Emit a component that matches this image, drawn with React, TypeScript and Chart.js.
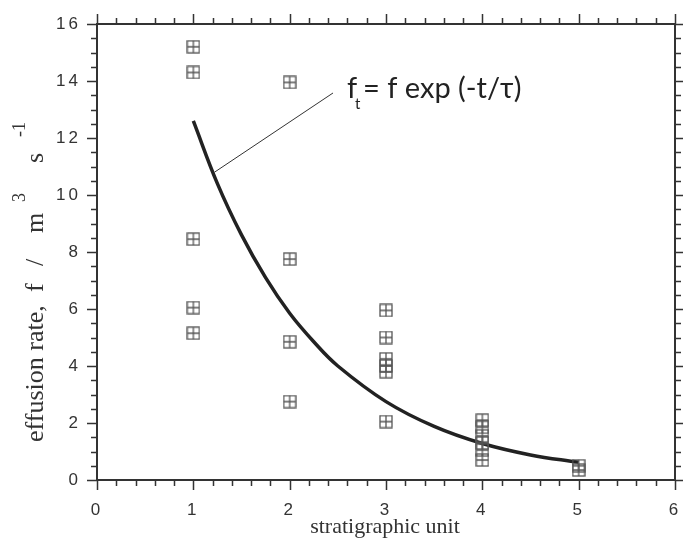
import React, { useEffect, useRef } from "react";
import { Chart, registerables } from "chart.js";

Chart.register(...registerables);

// Observed effusion rates by stratigraphic unit
const POINT_UNIT = [1, 1, 1, 1, 1, 2, 2, 2, 2, 3, 3, 3, 3, 3, 3, 4, 4, 4, 4, 4, 4, 5, 5];
const POINT_RATE = [15.2, 14.3, 8.45, 6.05, 5.15, 13.95, 7.75, 4.85, 2.75, 5.95, 5.0, 4.25, 4.0, 3.8, 2.05, 2.1, 1.85, 1.55, 1.3, 1.05, 0.7, 0.5, 0.35];

// Fitted exponential decay curve
const CURVE_UNIT = [1, 1.25, 1.5, 1.75, 2, 2.25, 2.5, 3, 3.5, 4, 4.5, 5];
const CURVE_RATE = [12.6, 10.4, 8.6, 7.1, 5.85, 4.85, 4.0, 2.75, 1.88, 1.28, 0.88, 0.62];

// Leader line from the curve to the equation label
const LEADER_UNIT = [1.22, 2.45];
const LEADER_RATE = [10.8, 13.58];

const X_TICKS = [0, 1, 2, 3, 4, 5, 6];
const Y_TICKS = [0, 2, 4, 6, 8, 10, 12, 14, 16];
const X_MINOR_STEP = 0.2;
const Y_MINOR_STEP = 0.5;

const X_TITLE = "stratigraphic unit";
// y title pieces: [text, offset along axis, superscript?]
const Y_TITLE_PARTS: [string, number, boolean][] = [
  ["effusion rate,", 0, false],
  ["f", 150, false],
  ["/", 176, false],
  ["m", 209, false],
  ["3", 240, true],
  ["s", 279, false],
  ["-1", 305, true],
];
const EQ_MAIN = "f";
const EQ_SUB = "t";
const EQ_REST = "= f exp (-t/\u03C4)";

function makeMarker(): HTMLCanvasElement {
  const c = document.createElement("canvas");
  c.width = 14;
  c.height = 14;
  const g = c.getContext("2d")!;
  g.strokeStyle = "#555";
  g.lineWidth = 1.3;
  g.strokeRect(1, 1, 12, 12);
  g.beginPath();
  g.moveTo(7, 1);
  g.lineTo(7, 13);
  g.moveTo(1, 7);
  g.lineTo(13, 7);
  g.stroke();
  return c;
}

const spacingPlugin = {
  id: "tickSpacing",
  beforeDraw(chart: any) {
    (chart.ctx as any).letterSpacing = "3px";
  },
  afterDraw(chart: any) {
    (chart.ctx as any).letterSpacing = "0px";
  },
};

const framePlugin = {
  id: "frameTicks",
  afterDraw(chart: any) {
    const { ctx, chartArea } = chart;
    const { left, right, top, bottom } = chartArea;
    const xs = chart.scales.x;
    const ys = chart.scales.y;
    ctx.save();
    (ctx as any).letterSpacing = "0px";
    ctx.strokeStyle = "#333";
    ctx.lineWidth = 2;
    ctx.strokeRect(left, top, right - left, bottom - top);
    ctx.lineWidth = 1.5;
    ctx.beginPath();
    const xMin = X_TICKS[0];
    const xMax = X_TICKS[X_TICKS.length - 1];
    const nx = Math.round((xMax - xMin) / X_MINOR_STEP);
    for (let i = 0; i <= nx; i++) {
      const v = xMin + i * X_MINOR_STEP;
      const major = X_TICKS.some((t) => Math.abs(t - v) < 1e-6);
      const len = major ? 10 : 6;
      const px = Math.round(xs.getPixelForValue(v)) + 0.5;
      ctx.moveTo(px, bottom);
      ctx.lineTo(px, bottom + len);
      ctx.moveTo(px, top);
      ctx.lineTo(px, top - len);
    }
    const yMin = Y_TICKS[0];
    const yMax = Y_TICKS[Y_TICKS.length - 1];
    const ny = Math.round((yMax - yMin) / Y_MINOR_STEP);
    for (let i = 0; i <= ny; i++) {
      const v = yMin + i * Y_MINOR_STEP;
      const major = Y_TICKS.some((t) => Math.abs(t - v) < 1e-6);
      const len = major ? 10 : 6;
      const py = Math.round(ys.getPixelForValue(v)) + 0.5;
      ctx.moveTo(left, py);
      ctx.lineTo(left - len, py);
      ctx.moveTo(right, py);
      ctx.lineTo(right + len, py);
    }
    ctx.stroke();

    // axis titles
    ctx.fillStyle = "#333";
    ctx.font = '22px "Liberation Serif", serif';
    ctx.textAlign = "center";
    ctx.textBaseline = "alphabetic";
    ctx.fillText(X_TITLE, 385, 533);

    ctx.save();
    ctx.translate(43, 442);
    ctx.rotate(-Math.PI / 2);
    ctx.textAlign = "left";
    for (const [txt, off, sup] of Y_TITLE_PARTS) {
      ctx.font = sup ? '18px "Liberation Serif", serif' : '26px "Liberation Serif", serif';
      ctx.fillText(txt, off, sup ? -18 : 0);
    }
    ctx.restore();

    // equation label at end of leader line
    const ex = xs.getPixelForValue(LEADER_UNIT[1]) + 14;
    const ey = ys.getPixelForValue(LEADER_RATE[1]) + 5;
    ctx.fillStyle = "#222";
    ctx.textAlign = "left";
    ctx.font = '29px Lato, "Open Sans", sans-serif';
    ctx.fillText(EQ_MAIN, ex, ey);
    ctx.font = '15px Lato, "Open Sans", sans-serif';
    ctx.fillText(EQ_SUB, ex + 8, ey + 11);
    ctx.font = '29px Lato, "Open Sans", sans-serif';
    ctx.fillText(EQ_REST, ex + 16, ey);
    ctx.restore();
  },
};

export default function App() {
  const ref = useRef<HTMLCanvasElement | null>(null);
  useEffect(() => {
    if (!ref.current) return;
    const marker = makeMarker();
    const chart = new Chart(ref.current, {
      type: "scatter",
      data: {
        datasets: [
          {
            label: "observed",
            data: POINT_UNIT.map((u, i) => ({ x: u, y: POINT_RATE[i] })),
            pointStyle: marker as any,
            pointRadius: 7,
            showLine: false,
          },
          {
            label: "fit",
            data: CURVE_UNIT.map((u, i) => ({ x: u, y: CURVE_RATE[i] })),
            showLine: true,
            borderColor: "#222",
            borderWidth: 3.5,
            pointRadius: 0,
            tension: 0.4,
          },
          {
            label: "leader",
            data: LEADER_UNIT.map((u, i) => ({ x: u, y: LEADER_RATE[i] })),
            showLine: true,
            borderColor: "#333",
            borderWidth: 1,
            pointRadius: 0,
          },
        ],
      },
      options: {
        responsive: false,
        animation: false,
        layout: { padding: { top: 24, right: 0, left: 0, bottom: 0 } },
        plugins: { legend: { display: false }, tooltip: { enabled: false } },
        scales: {
          x: {
            type: "linear",
            min: X_TICKS[0],
            max: X_TICKS[X_TICKS.length - 1],
            grid: { display: false },
            border: { display: false },
            afterFit: (s: any) => {
              s.height = 64;
              s.paddingRight = 6;
              s.paddingLeft = 0;
            },
            afterBuildTicks: (s: any) => {
              s.ticks = X_TICKS.map((v) => ({ value: v }));
            },
            ticks: {
              padding: 12,
              color: "#333",
              font: { family: '"Liberation Sans", Arial, sans-serif', size: 17 },
              maxRotation: 0,
            },
          },
          y: {
            type: "linear",
            min: Y_TICKS[0],
            max: Y_TICKS[Y_TICKS.length - 1],
            grid: { display: false },
            border: { display: false },
            afterFit: (s: any) => {
              s.width = 97;
              s.paddingTop = 0;
              s.paddingBottom = 0;
            },
            afterBuildTicks: (s: any) => {
              s.ticks = Y_TICKS.map((v) => ({ value: v }));
            },
            ticks: {
              padding: 8,
              color: "#333",
              font: { family: '"Liberation Sans", Arial, sans-serif', size: 17 },
            },
          },
        },
      },
      plugins: [spacingPlugin, framePlugin],
    });
    return () => chart.destroy();
  }, []);
  return (
    <div style={{ position: "absolute", left: 0, top: 0, width: 683, height: 544, background: "#fff" }}>
      <canvas ref={ref} width={683} height={544} />
    </div>
  );
}
